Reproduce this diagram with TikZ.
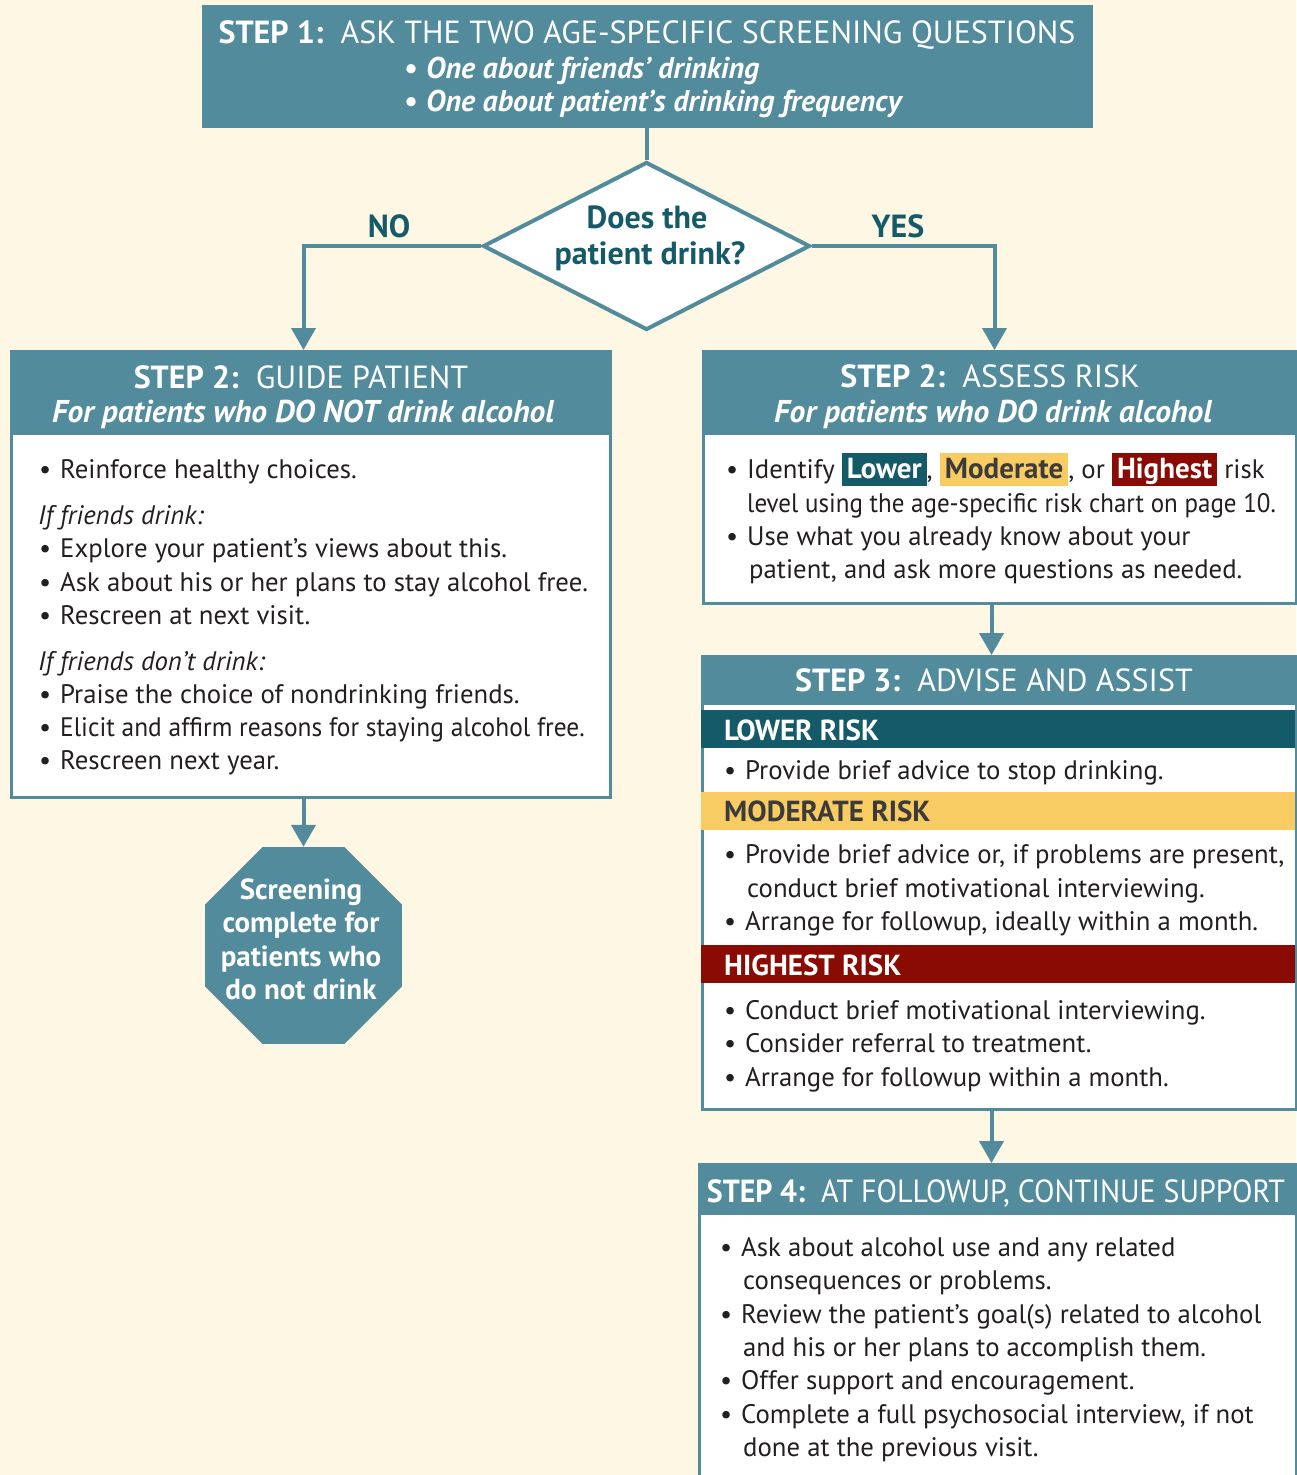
\documentclass[tikz,border=0pt]{standalone}
\usepackage{fontspec}
\usepackage{graphicx}
\setmainfont{PT Sans}
\usetikzlibrary{arrows.meta,shapes.geometric,calc}
\definecolor{bg}{HTML}{FEF7E4}
\definecolor{teal}{HTML}{528B9B}
\definecolor{dteal}{HTML}{155A69}
\definecolor{yel}{HTML}{F9CB63}
\definecolor{dred}{HTML}{8A0B03}
\definecolor{txt}{HTML}{231F20}
\definecolor{modtxt}{HTML}{3B3B3B}
\newcommand\bul{\llap{\textbullet\hspace{9pt}}}
\newcommand\hlbox[3]{{\setlength{\fboxsep}{0pt}\colorbox{#1}{\rule[-8pt]{0pt}{33pt}\hspace{5pt}\textcolor{#2}{\fontsize{29}{32}\selectfont\bfseries #3}\hspace{5pt}}}}
\tikzset{
  box/.style={draw=teal, line width=3pt, fill=white, rectangle, inner sep=0, anchor=north west},
  hdr/.style={fill=teal, rectangle, inner sep=0, anchor=north west},
  band/.style={rectangle, inner sep=0, anchor=north west, minimum width=594, minimum height=38},
  conn/.style={draw=teal, line width=4pt},
  arr/.style={conn, -{Triangle[width=24pt,length=22pt]}},
  body/.style={anchor=base west, inner sep=0, font=\fontsize{26.75}{32}\selectfont, text=txt},
  ital/.style={body, font=\fontsize{26.75}{32}\selectfont\itshape},
  ttl/.style={anchor=base, inner sep=0, text=white, font=\fontsize{32}{38}\selectfont},
  sub/.style={anchor=base, inner sep=0, text=white, font=\fontsize{31.5}{36}\selectfont\bfseries\itshape},
  s1sub/.style={anchor=base west, inner sep=0, text=white, font=\fontsize{30}{36}\selectfont\bfseries\itshape},
  bandtxt/.style={anchor=base west, inner sep=0, font=\fontsize{29}{32}\selectfont\bfseries},
  lbl/.style={anchor=base, inner sep=0, text=dteal, font=\fontsize{32}{36}\selectfont\bfseries},
  octtxt/.style={anchor=base, inner sep=0, text=white, font=\fontsize{29}{32}\selectfont\bfseries},
}
\begin{document}
\begin{tikzpicture}[x=1pt,y=-1pt]
\useasboundingbox (0,0) rectangle (1296,1475);
\fill[bg] (0,0) rectangle (1296,1475);

% STEP 1
\node[hdr, minimum width=891, minimum height=123] (s1) at (202,5) {};
\node[ttl] (s1t) at (647,43) {\textbf{STEP 1:}\ \ ASK THE TWO AGE-SPECIFIC SCREENING QUESTIONS};
\node[s1sub] (s1a) at (426,78) {\bul One about friends’ drinking};
\node[s1sub] (s1b) at (426,111) {\bul One about patient’s drinking frequency};

% Diamond
\node[diamond, draw=teal, line width=4pt, fill=white, minimum width=327, minimum height=168, inner sep=0] (dia) at (646.5,246) {};
\node[lbl] (dia1) at (647,228) {Does the};
\node[lbl] (dia2) at (650,264) {patient drink?};
\node[lbl] (no) at (389,237) {NO};
\node[lbl] (yes) at (898,237) {YES};

% STEP 2 guide
\node[box, minimum width=599, minimum height=446] (g2) at (10,350) {};
\node[hdr, minimum width=599, minimum height=85] (g2h) at (10,350) {};
\node[ttl] (g2t) at (301,388) {\textbf{STEP 2:}\ \ GUIDE PATIENT};
\node[sub] (g2s) at (303,422) {For patients who DO NOT drink alcohol};
\node[body] (g1) at (60,478) {\bul Reinforce healthy choices.};
\node[ital] (g2i) at (38,524) {If friends drink:};
\node[body] (g3) at (60,557) {\bul Explore your patient’s views about this.};
\node[body] (g4) at (60,591) {\bul Ask about his or her plans to stay alcohol free.};
\node[body] (g5) at (60,624) {\bul Rescreen at next visit.};
\node[ital] (g6) at (38,670) {If friends don’t drink:};
\node[body] (g7) at (60,703) {\bul Praise the choice of nondrinking friends.};
\node[body] (g8) at (60,736) {\bul \scalebox{0.95}[1]{Elicit and affirm reasons for staying alcohol free.}};
\node[body] (g9) at (60,769) {\bul Rescreen next year.};

% Octagon
\node[regular polygon, regular polygon sides=8, minimum size=213.2, fill=teal, inner sep=0] (oct) at (303.5,945.5) {};
\node[octtxt] (o1) at (301,899) {Screening};
\node[octtxt] (o2) at (301,932) {complete for};
\node[octtxt] (o3) at (301,966) {patients who};
\node[octtxt] (o4) at (301,999) {do not drink};

% STEP 2 assess
\node[box, minimum width=593, minimum height=252] (a2) at (702,350) {};
\node[hdr, minimum width=593, minimum height=85] (a2h) at (702,350) {};
\node[ttl] (a2t) at (990,387) {\textbf{STEP 2:}\ \ ASSESS RISK};
\node[sub] (a2s) at (993,422) {For patients who DO drink alcohol};
\node[body] (a1) at (747,478) {\bul Identify \hlbox{dteal}{white}{Lower}, \hlbox{yel}{modtxt}{Moderate}, or \hlbox{dred}{white}{Highest} risk};
\node[body] (a3) at (747,512) {\scalebox{0.935}[1]{level using the age-specific risk chart on page 10.}};
\node[body] (a4) at (747,545) {\bul Use what you already know about your};
\node[body] (a5) at (749,578) {patient, and ask more questions as needed.};

% STEP 3
\node[box, minimum width=594, minimum height=453] (s3) at (701,655) {};
\node[hdr, minimum width=594, minimum height=50] (s3h) at (701,655) {};
\node[ttl] (s3t) at (994,691) {\textbf{STEP 3:}\ \ ADVISE AND ASSIST};
\node[band, fill=dteal] (lowb) at (701,710) {};
\node[bandtxt, text=white] (lowt) at (724,740) {LOWER RISK};
\node[body] (l1) at (745,779) {\bul Provide brief advice to stop drinking.};
\node[band, fill=yel] (modb) at (701,792) {};
\node[bandtxt, text=modtxt] (modt) at (724,821) {MODERATE RISK};
\node[body] (m1) at (745,863) {\bul Provide brief advice or, if problems are present,};
\node[body] (m2) at (747,897) {conduct brief motivational interviewing.};
\node[body] (m3) at (745,930) {\bul Arrange for followup, ideally within a month.};
\node[band, fill=dred] (hib) at (701,945) {};
\node[bandtxt, text=white] (hit) at (724,975) {HIGHEST RISK};
\node[body] (h1) at (745,1019) {\bul Conduct brief motivational interviewing.};
\node[body] (h2) at (745,1052) {\bul Consider referral to treatment.};
\node[body] (h3) at (745,1086) {\bul Arrange for followup within a month.};

% STEP 4
\node[box, minimum width=597, minimum height=330] (s4) at (698,1163) {};
\node[hdr, minimum width=597, minimum height=52] (s4h) at (698,1163) {};
\node[ttl] (s4t) at (996,1202) {\scalebox{0.935}[1]{\textbf{STEP 4:}\ \ AT FOLLOWUP, CONTINUE SUPPORT}};
\node[body] (f1) at (741,1256) {\bul Ask about alcohol use and any related};
\node[body] (f2) at (743,1289) {consequences or problems.};
\node[body] (f3) at (741,1323) {\bul Review the patient’s goal(s) related to alcohol};
\node[body] (f4) at (743,1356) {and his or her plans to accomplish them.};
\node[body] (f5) at (741,1389) {\bul Offer support and encouragement.};
\node[body] (f6) at (741,1423) {\bul Complete a full psychosocial interview, if not};
\node[body] (f7) at (743,1456) {done at the previous visit.};

% connectors
\draw[conn] (s1.south -| dia.north) -- (dia.north);
\draw[arr] (dia.west) -| ($(g2.north)+(-7.5,0)$);
\draw[arr] (dia.east) -| ($(a2.north)+(-5.5,0)$);
\draw[arr] (oct.north |- g2.south) -- (oct.north);
\draw[arr] ($(a2.south)+(-8.5,0)$) -- ($(s3.north)+(-8,0)$);
\draw[arr] ($(s3.south)+(-8,0)$) -- ($(s4.north)+(-6.5,0)$);
\end{tikzpicture}
\end{document}
